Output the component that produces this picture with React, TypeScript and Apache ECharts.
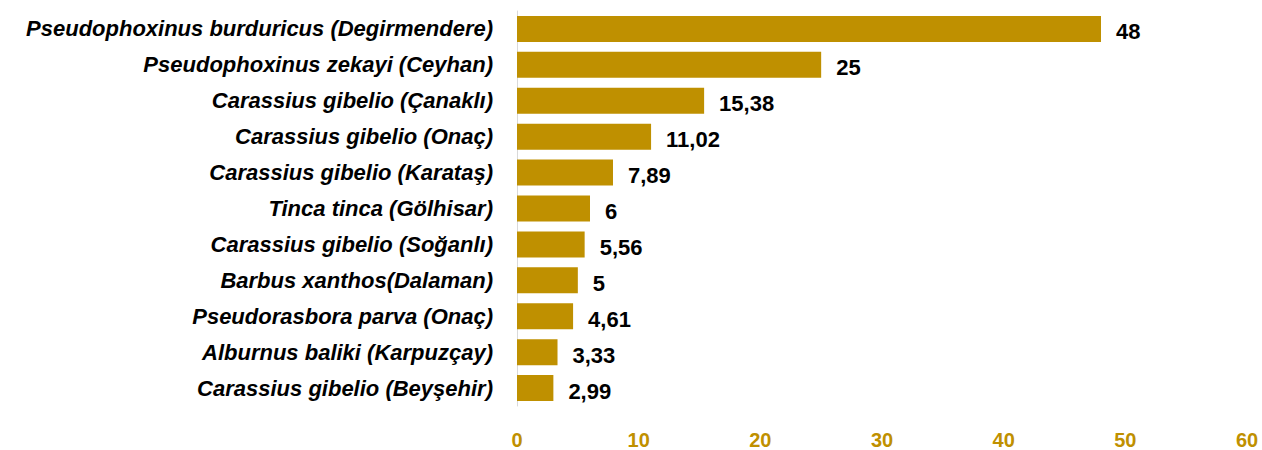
import React, { useEffect, useRef } from "react";
import * as echarts from "echarts";

const categories = [
  "Pseudophoxinus burduricus (Degirmendere)",
  "Pseudophoxinus zekayi (Ceyhan)",
  "Carassius gibelio (Çanaklı)",
  "Carassius gibelio (Onaç)",
  "Carassius gibelio (Karataş)",
  "Tinca tinca (Gölhisar)",
  "Carassius gibelio (Soğanlı)",
  "Barbus xanthos(Dalaman)",
  "Pseudorasbora parva (Onaç)",
  "Alburnus baliki (Karpuzçay)",
  "Carassius gibelio (Beyşehir)",
];
const values = [48, 25, 15.38, 11.02, 7.89, 6, 5.56, 5, 4.61, 3.33, 2.99];

export default function App() {
  const ref = useRef<HTMLDivElement>(null);
  useEffect(() => {
    if (!ref.current) return;
    const chart = echarts.init(ref.current, undefined, { renderer: "svg" });
    chart.setOption({
      animation: false,
      grid: { left: 517, right: 15, top: 11, bottom: 42, containLabel: false },
      xAxis: {
        type: "value",
        min: 0,
        max: 60,
        interval: 10,
        splitLine: { show: false },
        axisLine: { show: false },
        axisTick: { show: false },
        axisLabel: {
          color: "#BF9000",
          fontWeight: "bold",
          fontSize: 20,
          fontFamily: "Liberation Sans",
          margin: 24,
        },
      },
      yAxis: {
        type: "category",
        inverse: true,
        data: categories,
        axisLine: { show: true, lineStyle: { color: "#D9D9D9", width: 1 } },
        axisTick: { show: false },
        axisLabel: {
          color: "#000",
          fontWeight: "bold",
          fontStyle: "italic",
          fontSize: 22,
          fontFamily: "Liberation Sans",
          margin: 24,
        },
      },
      series: [
        {
          type: "bar",
          data: values,
          barWidth: 26,
          itemStyle: { color: "#BF9000" },
          label: {
            show: true,
            position: "right",
            distance: 15,
            color: "#000",
            fontWeight: "bold",
            fontSize: 22,
            fontFamily: "Liberation Sans",
            offset: [0, 3],
            formatter: (p: any) => String(p.value).replace(".", ","),
          },
        },
      ],
    });
    return () => chart.dispose();
  }, []);
  return <div ref={ref} style={{ width: 1262, height: 450, position: "absolute", left: 0, top: 0 }} />;
}
